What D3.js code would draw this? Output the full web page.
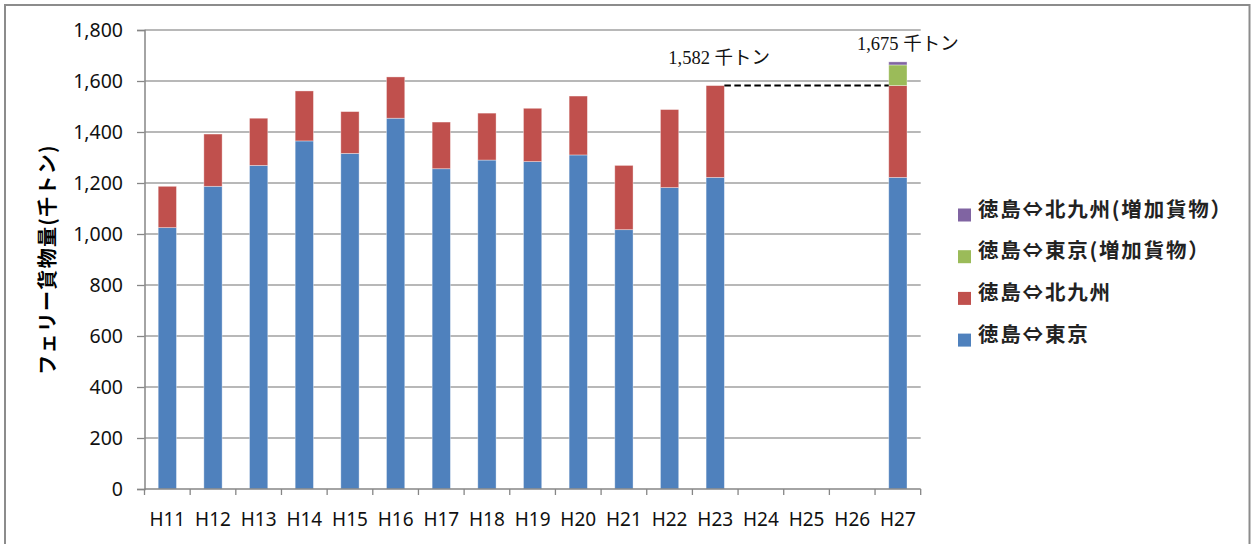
<!DOCTYPE html>
<html>
<head>
<meta charset="utf-8">
<script src="https://cdn.jsdelivr.net/npm/d3@7"></script>
<style>
  html, body { margin: 0; padding: 0; background: #fff; }
  svg { display: block; }
</style>
</head>
<body>
<svg id="chart" width="1252" height="544"></svg>
<script>
// Fiscal years (Heisei)
const years = ["H11","H12","H13","H14","H15","H16","H17","H18","H19","H20","H21","H22","H23","H24","H25","H26","H27"];
// Freight volume by route, thousand tonnes
const tokyo      = [1025,1187,1269,1365,1316,1454,1256,1290,1284,1310,1017,1182,1222,null,null,null,1222];
const kitakyushu = [162, 205, 185, 196, 164, 162, 183, 184, 209, 231, 252, 306, 360, null,null,null,360];
const tokyoAdd   = [null,null,null,null,null,null,null,null,null,null,null,null,null,null,null,null,81];
const kitaAdd    = [null,null,null,null,null,null,null,null,null,null,null,null,null,null,null,null,12];
const seriesNames  = ["徳島⇔東京","徳島⇔北九州","徳島⇔東京(増加貨物）","徳島⇔北九州(増加貨物）"];
const seriesColors = ["#4F81BD","#C0504D","#9BBB59","#8064A2"];
const yTicks = [0,200,400,600,800,1000,1200,1400,1600,1800];
const yTitle = "フェリー貨物量(千トン)";
const unitLabel = "千トン";
// Totals called out above the bars, with the dashed reference level
const callouts = [{year:"H23", value:1582, dx:4, dy:-22}, {year:"H27", value:1675, dx:10, dy:-12}];
const refFrom = "H23", refTo = "H27", refValue = 1582;

const svg = d3.select("#chart");
const plotLeft = 144.5, plotRight = 920.7, plotTop = 30, plotBottom = 489;

const x = d3.scaleBand().domain(years).range([plotLeft, plotRight]).paddingInner(0.6).paddingOuter(0.3);
const y = d3.scaleLinear().domain([0, 1800]).range([plotBottom, plotTop]);
const fmt = d3.format(",");

// outer frame
svg.append("rect").attr("x",5).attr("y",5).attr("width",1244.5).attr("height",600)
  .attr("fill","none").attr("stroke","#8c8c8c").attr("stroke-width",2);

// gridlines
svg.append("g").selectAll("line").data(yTicks.filter(d => d > 0)).join("line")
  .attr("x1", plotLeft).attr("x2", plotRight)
  .attr("y1", d => y(d)).attr("y2", d => y(d))
  .attr("stroke","#a0a0a0").attr("stroke-width",1.3);

// stacked bars
const rows = years.map((yr, i) => ({year: yr, v: [tokyo[i], kitakyushu[i], tokyoAdd[i], kitaAdd[i]]}));
const stack = d3.stack().keys([0,1,2,3]).value((d, k) => d.v[k] || 0);
const layers = stack(rows);
layers.forEach((layer, k) => {
  svg.append("g").selectAll("rect").data(layer.filter(d => d.data.v[k] != null)).join("rect")
    .attr("x", d => x(d.data.year))
    .attr("width", x.bandwidth())
    .attr("y", d => y(d[1]))
    .attr("height", d => y(d[0]) - y(d[1]))
    .attr("fill", seriesColors[k])
    .attr("stroke", "rgba(255,255,255,0.45)")
    .attr("stroke-width", 0.8);
});

// y axis
const yAxis = d3.axisLeft(y).tickValues(yTicks).tickFormat(fmt).tickSize(7.5).tickPadding(14);
const gy = svg.append("g").attr("transform", `translate(${plotLeft},0)`).call(yAxis);
gy.select(".domain").attr("stroke","#868686").attr("stroke-width",1.5);
gy.selectAll(".tick line").attr("stroke","#868686").attr("stroke-width",1.3);
gy.selectAll(".tick text").attr("font-family","'Noto Sans', sans-serif").attr("font-size",19.5).attr("fill","#111");

// x axis: labels centred in each band, tick marks at band edges
const xAxis = d3.axisBottom(x).tickSize(0).tickPadding(24);
const gx = svg.append("g").attr("transform", `translate(0,${plotBottom})`).call(xAxis);
gx.select(".domain").remove();
gx.selectAll(".tick text").attr("font-family","'Noto Sans', sans-serif").attr("font-size",19).attr("fill","#111");
svg.append("line").attr("x1", plotLeft).attr("x2", plotRight).attr("y1", plotBottom).attr("y2", plotBottom)
  .attr("stroke","#868686").attr("stroke-width",1.5);
const edges = years.map(d => x(d) - x.step() * x.paddingOuter()).concat([plotRight]);
svg.append("g").selectAll("line").data(edges).join("line")
  .attr("x1", d => d).attr("x2", d => d).attr("y1", plotBottom).attr("y2", plotBottom + 6)
  .attr("stroke","#868686").attr("stroke-width",1.3);

// y title
svg.append("text")
  .attr("transform", `translate(55,${(plotTop + plotBottom) / 2}) rotate(-90)`)
  .attr("text-anchor","middle")
  .attr("font-family","'Noto Sans CJK JP', sans-serif")
  .attr("font-weight","bold").attr("font-size",20).attr("letter-spacing",1.3)
  .attr("fill","#000")
  .text(yTitle);

// dashed reference line between the two totals
svg.append("line")
  .attr("x1", x(refFrom) + x.bandwidth()).attr("x2", x(refTo))
  .attr("y1", y(refValue)).attr("y2", y(refValue))
  .attr("stroke","#000").attr("stroke-width",2).attr("stroke-dasharray","6.5,3.5");

// total callouts
svg.append("g").selectAll("text").data(callouts).join("text")
  .attr("x", d => x(d.year) + x.bandwidth() / 2 + d.dx)
  .attr("y", d => y(d.value) + d.dy)
  .attr("text-anchor","middle")
  .attr("font-family","'Liberation Serif', 'Noto Sans CJK JP', serif")
  .attr("font-size",18.5).attr("fill","#111")
  .text(d => `${fmt(d.value)} ${unitLabel}`);

// legend (top entry is the top of the stack)
const legendOrder = [3,2,1,0];
const lg = svg.append("g").attr("transform","translate(958,0)");
legendOrder.forEach((k, i) => {
  const cy = 215 + i * 41.7;
  lg.append("rect").attr("x",0).attr("y",cy - 6.5).attr("width",13).attr("height",13).attr("fill",seriesColors[k]);
  lg.append("text").attr("x",20).attr("y",cy + 1.5)
    .attr("font-family","'Noto Sans CJK JP', sans-serif")
    .attr("font-weight","bold").attr("font-size",20.5).attr("letter-spacing",1.8)
    .attr("fill","#222")
    .text(seriesNames[k]);
});
</script>
</body>
</html>
